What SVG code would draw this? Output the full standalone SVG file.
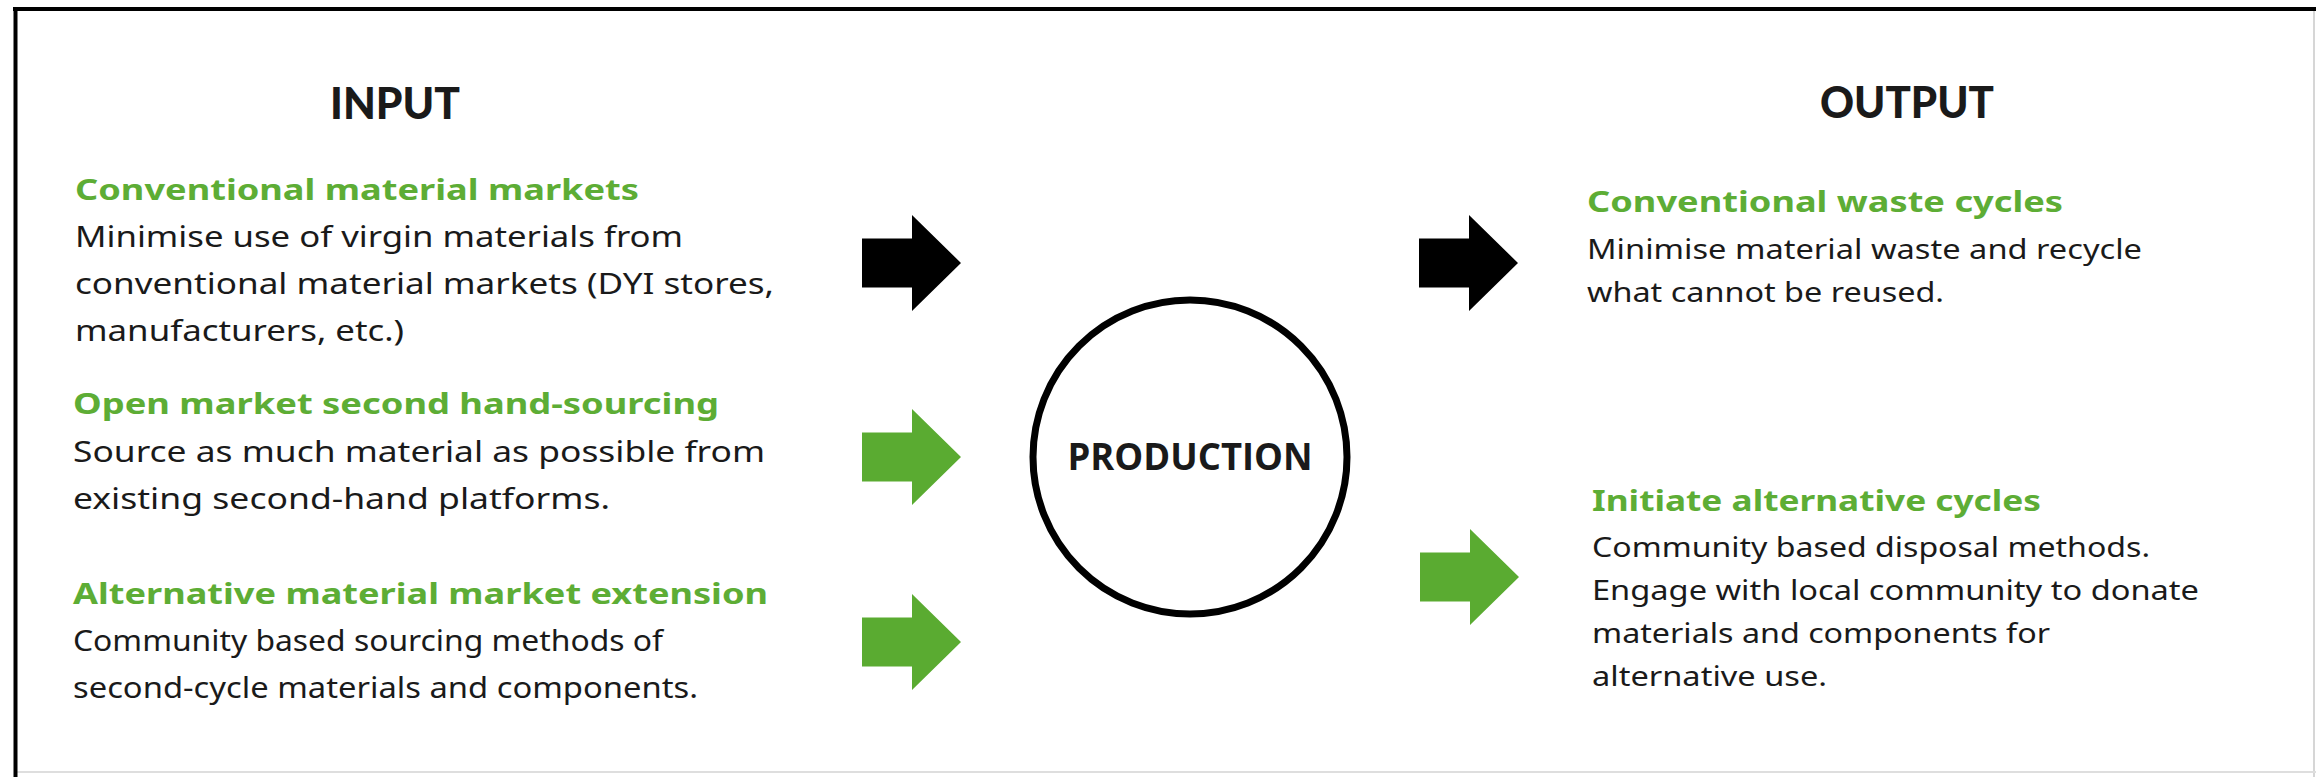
<svg xmlns="http://www.w3.org/2000/svg" xmlns:xlink="http://www.w3.org/1999/xlink" width="2316" height="777" viewBox="0 0 2316 777">
<style>
.hdr{font-family:Lato,"Noto Sans",sans-serif;font-weight:900;font-size:44px;fill:#1a1a1a;text-anchor:middle}
.gh{font-family:"Noto Sans","Open Sans",sans-serif;font-weight:700;font-size:29px;fill:#5dad35}
.bd{font-family:"Noto Sans","Open Sans",sans-serif;font-weight:400;font-size:29px;fill:#1a1a1a}
.bo{font-family:"Noto Sans","Open Sans",sans-serif;font-weight:400;font-size:28px;fill:#1a1a1a}
.prod{font-family:"Open Sans","Noto Sans",sans-serif;font-weight:700;font-size:37px;fill:#1a1a1a;text-anchor:middle}
.blk{fill:#000}
.grn{fill:#5aab31}
</style>
<defs>
<path id="arr" d="M0,-24.5 H50 V-48 L99,0 L50,48 V24.5 H0 Z"/>
</defs>
<rect x="0" y="0" width="2316" height="777" fill="#fff"/>
<g id="frame">
<line x1="2314" y1="9" x2="2314" y2="777" stroke="#d6d6d6" stroke-width="2"/>
<line x1="15" y1="772" x2="2316" y2="772" stroke="#dedede" stroke-width="2"/>
<line x1="13" y1="9" x2="2316" y2="9" stroke="#000" stroke-width="4"/>
<line x1="15.5" y1="7" x2="15.5" y2="777" stroke="#000" stroke-width="4"/>
</g>
<g id="input-title"><text class="hdr" x="395" y="119" textLength="130" lengthAdjust="spacingAndGlyphs">INPUT</text></g>
<g id="output-title"><text class="hdr" x="1907" y="118" textLength="174" lengthAdjust="spacingAndGlyphs">OUTPUT</text></g>
<g id="in-conventional">
<text class="gh" x="75" y="200" textLength="564" lengthAdjust="spacingAndGlyphs">Conventional material markets</text>
<text class="bd" x="75" y="247" textLength="608" lengthAdjust="spacingAndGlyphs">Minimise use of virgin materials from</text>
<text class="bd" x="75" y="294" textLength="699" lengthAdjust="spacingAndGlyphs">conventional material markets (DYI stores,</text>
<text class="bd" x="75" y="341" textLength="329" lengthAdjust="spacingAndGlyphs">manufacturers, etc.)</text>
</g>
<g id="in-open-market">
<text class="gh" x="73" y="414" textLength="646" lengthAdjust="spacingAndGlyphs">Open market second hand-sourcing</text>
<text class="bd" x="73" y="462" textLength="692" lengthAdjust="spacingAndGlyphs">Source as much material as possible from</text>
<text class="bd" x="73" y="509" textLength="537" lengthAdjust="spacingAndGlyphs">existing second-hand platforms.</text>
</g>
<g id="in-alternative">
<text class="gh" x="73" y="604" textLength="695" lengthAdjust="spacingAndGlyphs">Alternative material market extension</text>
<text class="bd" x="73" y="651" textLength="590" lengthAdjust="spacingAndGlyphs">Community based sourcing methods of</text>
<text class="bd" x="73" y="698" textLength="625" lengthAdjust="spacingAndGlyphs">second-cycle materials and components.</text>
</g>
<g id="production">
<circle cx="1190" cy="457" r="157" fill="#fff" stroke="#000" stroke-width="7"/>
<text class="prod" x="1190" y="470" textLength="245" lengthAdjust="spacingAndGlyphs">PRODUCTION</text>
</g>
<g id="out-conventional">
<text class="gh" x="1587" y="212" textLength="476" lengthAdjust="spacingAndGlyphs">Conventional waste cycles</text>
<text class="bo" x="1587" y="259" textLength="555" lengthAdjust="spacingAndGlyphs">Minimise material waste and recycle</text>
<text class="bo" x="1587" y="302" textLength="357" lengthAdjust="spacingAndGlyphs">what cannot be reused.</text>
</g>
<g id="out-alternative">
<text class="gh" x="1592" y="511" textLength="449" lengthAdjust="spacingAndGlyphs">Initiate alternative cycles</text>
<text class="bo" x="1592" y="557" textLength="558" lengthAdjust="spacingAndGlyphs">Community based disposal methods.</text>
<text class="bo" x="1592" y="600" textLength="607" lengthAdjust="spacingAndGlyphs">Engage with local community to donate</text>
<text class="bo" x="1592" y="643" textLength="458" lengthAdjust="spacingAndGlyphs">materials and components for</text>
<text class="bo" x="1592" y="686" textLength="235" lengthAdjust="spacingAndGlyphs">alternative use.</text>
</g>
<g id="connectors">
<use xlink:href="#arr" class="blk" x="862" y="263"/>
<use xlink:href="#arr" class="grn" x="862" y="457"/>
<use xlink:href="#arr" class="grn" x="862" y="642"/>
<use xlink:href="#arr" class="blk" x="1419" y="263"/>
<use xlink:href="#arr" class="grn" x="1420" y="577"/>
</g>
</svg>
